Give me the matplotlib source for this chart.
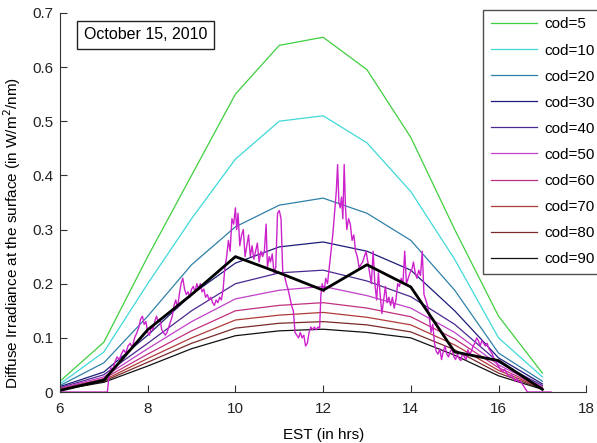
import matplotlib
matplotlib.use('Agg')
import matplotlib.pyplot as plt

plt.rcParams['font.family'] = ['Liberation Sans', 'DejaVu Sans']

# hourly model output, 6..17 EST
hours = [6, 7, 8, 9, 10, 11, 12, 13, 14, 15, 16, 17]
cod5 = [0.02, 0.092, 0.25, 0.40, 0.55, 0.64, 0.655, 0.595, 0.47, 0.30, 0.14, 0.035]
cod10 = [0.015, 0.074, 0.20, 0.32, 0.43, 0.50, 0.51, 0.46, 0.37, 0.245, 0.10, 0.028]
cod20 = [0.012, 0.054, 0.14, 0.235, 0.305, 0.345, 0.358, 0.33, 0.28, 0.188, 0.072, 0.02]
cod30 = [0.01, 0.037, 0.105, 0.18, 0.238, 0.268, 0.277, 0.26, 0.225, 0.15, 0.063, 0.015]
cod40 = [0.008, 0.032, 0.09, 0.15, 0.20, 0.22, 0.225, 0.205, 0.176, 0.125, 0.055, 0.012]
cod50 = [0.007, 0.028, 0.08, 0.13, 0.172, 0.188, 0.195, 0.178, 0.155, 0.11, 0.05, 0.01]
cod60 = [0.006, 0.025, 0.07, 0.113, 0.15, 0.16, 0.165, 0.155, 0.139, 0.098, 0.045, 0.008]
cod70 = [0.005, 0.022, 0.062, 0.10, 0.133, 0.142, 0.147, 0.138, 0.124, 0.087, 0.04, 0.007]
cod80 = [0.004, 0.02, 0.055, 0.09, 0.118, 0.127, 0.13, 0.124, 0.111, 0.078, 0.035, 0.006]
cod90 = [0.004, 0.018, 0.048, 0.08, 0.104, 0.113, 0.116, 0.11, 0.10, 0.068, 0.03, 0.005]
obs_hourly = [0.003, 0.022, 0.115, 0.18, 0.25, 0.22, 0.188, 0.235, 0.194, 0.074, 0.058, 0.005]

# measured (high rate) data
t_meas = [6.0, 7.08, 7.12, 7.16, 7.2, 7.25, 7.3, 7.35, 7.4, 7.45, 7.5, 7.55, 7.6, 7.65, 7.7, 7.75,
          7.8, 7.84, 7.88, 7.92, 7.96, 8.0, 8.04, 8.08, 8.12, 8.16, 8.2, 8.24, 8.28, 8.32, 8.36,
          8.4, 8.44, 8.48, 8.52, 8.56, 8.6, 8.64, 8.68, 8.72, 8.76, 8.8, 8.84, 8.88, 8.92, 8.96,
          9.0, 9.04, 9.08, 9.12, 9.16, 9.2, 9.24, 9.28, 9.32, 9.36, 9.4, 9.44, 9.48, 9.52, 9.56,
          9.6, 9.64, 9.68, 9.72, 9.76, 9.8, 9.84, 9.88, 9.92, 9.96, 10.0, 10.03, 10.06, 10.1,
          10.14, 10.18, 10.22, 10.26, 10.3, 10.34, 10.38, 10.42, 10.46, 10.5, 10.54, 10.58, 10.62,
          10.66, 10.7, 10.73, 10.77, 10.8, 10.84, 10.88, 10.92, 10.96, 11.0, 11.04, 11.08, 11.12,
          11.16, 11.2, 11.24, 11.28, 11.32, 11.36, 11.4, 11.44, 11.48, 11.52, 11.56, 11.6, 11.64,
          11.68, 11.72, 11.76, 11.8, 11.84, 11.88, 11.92, 11.95, 11.98, 12.02, 12.06, 12.1, 12.14,
          12.18, 12.22, 12.26, 12.3, 12.33, 12.36, 12.39, 12.42, 12.45, 12.48, 12.51, 12.54,
          12.58, 12.62, 12.66, 12.7, 12.74, 12.78, 12.82, 12.86, 12.9, 12.94, 12.98, 13.02, 13.06,
          13.1, 13.14, 13.18, 13.22, 13.26, 13.3, 13.34, 13.38, 13.42, 13.46, 13.5, 13.54, 13.58,
          13.62, 13.66, 13.7, 13.74, 13.78, 13.82, 13.86, 13.9, 13.94, 13.98, 14.02, 14.06, 14.1,
          14.14, 14.18, 14.22, 14.26, 14.3, 14.34, 14.38, 14.42, 14.46, 14.5, 14.54, 14.58, 14.62,
          14.66, 14.7, 14.74, 14.78, 14.82, 14.86, 14.9, 14.94, 14.98, 15.02, 15.06, 15.1, 15.14,
          15.18, 15.22, 15.26, 15.3, 15.34, 15.38, 15.42, 15.46, 15.5, 15.54, 15.58, 15.62, 15.66,
          15.7, 15.74, 15.78, 15.82, 15.86, 15.9, 15.94, 15.98, 16.02, 16.06, 16.1, 16.14, 16.18,
          16.22, 16.26, 16.3, 16.34, 16.38, 16.42, 16.46, 16.5, 16.54, 16.58, 16.62, 16.66, 17.2]
y_meas = [0.0, 0.0, 0.03, 0.045, 0.04, 0.055, 0.065, 0.06, 0.07, 0.078, 0.072, 0.085, 0.09, 0.082, 0.1, 0.109,
          0.12, 0.135, 0.14, 0.125, 0.13, 0.11, 0.105, 0.12, 0.115, 0.13, 0.14, 0.13, 0.135, 0.115, 0.11,
          0.105, 0.11, 0.12, 0.13, 0.14, 0.16, 0.17, 0.155, 0.18, 0.2, 0.21, 0.19, 0.18, 0.185, 0.175,
          0.19, 0.195, 0.185, 0.2, 0.19, 0.2, 0.185, 0.19, 0.175, 0.18, 0.17, 0.175, 0.165, 0.16, 0.17,
          0.165, 0.175, 0.17, 0.19, 0.23, 0.25, 0.28, 0.26, 0.32, 0.31, 0.34, 0.3, 0.33, 0.27,
          0.29, 0.3, 0.25, 0.27, 0.29, 0.25, 0.27, 0.245, 0.26, 0.275, 0.24, 0.26, 0.25,
          0.26, 0.31, 0.23, 0.25, 0.24, 0.255, 0.22, 0.23, 0.33, 0.335, 0.32, 0.22, 0.215,
          0.2, 0.19, 0.175, 0.16, 0.15, 0.11, 0.105, 0.1, 0.11, 0.1, 0.105, 0.085, 0.09,
          0.11, 0.12, 0.115, 0.12, 0.115, 0.12, 0.118, 0.18, 0.2, 0.185, 0.21, 0.2, 0.23,
          0.26, 0.29, 0.33, 0.37, 0.42, 0.35, 0.34, 0.36, 0.32, 0.42, 0.34, 0.3,
          0.32, 0.31, 0.28, 0.29, 0.26, 0.25, 0.23, 0.235, 0.24, 0.25, 0.26, 0.24, 0.22,
          0.2, 0.26, 0.2, 0.17, 0.22, 0.18, 0.145, 0.17, 0.195, 0.165, 0.175, 0.16, 0.175,
          0.155, 0.17, 0.2, 0.195, 0.21, 0.2, 0.26, 0.2, 0.21, 0.22, 0.225, 0.24, 0.22,
          0.21, 0.225, 0.215, 0.26, 0.18, 0.17, 0.16, 0.14, 0.11, 0.125, 0.09, 0.075, 0.07,
          0.08, 0.06, 0.075, 0.085, 0.07, 0.065, 0.075, 0.08, 0.065, 0.06, 0.07, 0.062, 0.058,
          0.072, 0.065, 0.06, 0.078, 0.07, 0.075, 0.085, 0.09, 0.1, 0.095, 0.085, 0.095, 0.09,
          0.085, 0.09, 0.08, 0.075, 0.07, 0.06, 0.058, 0.05, 0.045, 0.04, 0.038, 0.042, 0.035,
          0.03, 0.028, 0.032, 0.025, 0.02, 0.025, 0.018, 0.02, 0.015, 0.01, 0.005, 0.0, 0.0]

cods = [cod5, cod10, cod20, cod30, cod40, cod50, cod60, cod70, cod80, cod90]
names = ['cod=5', 'cod=10', 'cod=20', 'cod=30', 'cod=40', 'cod=50', 'cod=60', 'cod=70', 'cod=80', 'cod=90']
colors = ['#3fcf3f', '#40d8d8', '#2f80a8', '#1c1c78', '#4a2890', '#c040c8', '#c03080', '#b03a3a', '#7a2a2a', '#111111']

fig = plt.figure(figsize=(5.97, 4.43), dpi=100)
ax = fig.add_axes([0.1005, 0.115, 0.8815, 0.856])

for c, n, col in zip(cods, names, colors):
    ax.plot(hours, c, color=col, linewidth=0.9, label=n)

ax.plot(t_meas, y_meas, color='#cc22cc', linewidth=1.0)
ax.plot(hours, obs_hourly, color='black', linewidth=2.0)

ax.set_xlim(6, 18)
ax.set_ylim(0, 0.7)
ax.set_xticks([6, 8, 10, 12, 14, 16, 18])
ax.set_yticks([0, 0.1, 0.2, 0.3, 0.4, 0.5, 0.6, 0.7])
ax.set_yticklabels(['0', '0.1', '0.2', '0.3', '0.4', '0.5', '0.6', '0.7'])
ax.spines['top'].set_visible(False)
ax.spines['right'].set_visible(False)
ax.spines['left'].set_color('#333333')
ax.spines['bottom'].set_color('#333333')
ax.tick_params(direction='in', length=5, labelsize=11, colors='#333333', labelcolor='#222222')
ax.tick_params(axis='x', pad=7)
ax.tick_params(axis='y', pad=5)
ax.set_xlabel('EST (in hrs)', fontsize=11, labelpad=9)
ax.set_ylabel('Diffuse Irradiance at the surface (in W/m$^2$/nm)', fontsize=11)
ax.yaxis.set_label_coords(-0.07, 0.42)

ax.text(0.0456, 0.942, 'October 15, 2010', transform=ax.transAxes, fontsize=11.5,
        va='center', ha='left',
        bbox=dict(boxstyle='square,pad=0.42', facecolor='white', edgecolor='#222222', linewidth=1))

leg = ax.legend(loc='upper left', bbox_to_anchor=(0.804, 1.008), borderaxespad=0, fontsize=11,
                frameon=True, fancybox=False, edgecolor='#222222', handlelength=3.0,
                labelspacing=0.79, borderpad=0.5, handletextpad=0.5)
leg.get_frame().set_linewidth(1.0)

fig.savefig('out.png', dpi=100)
